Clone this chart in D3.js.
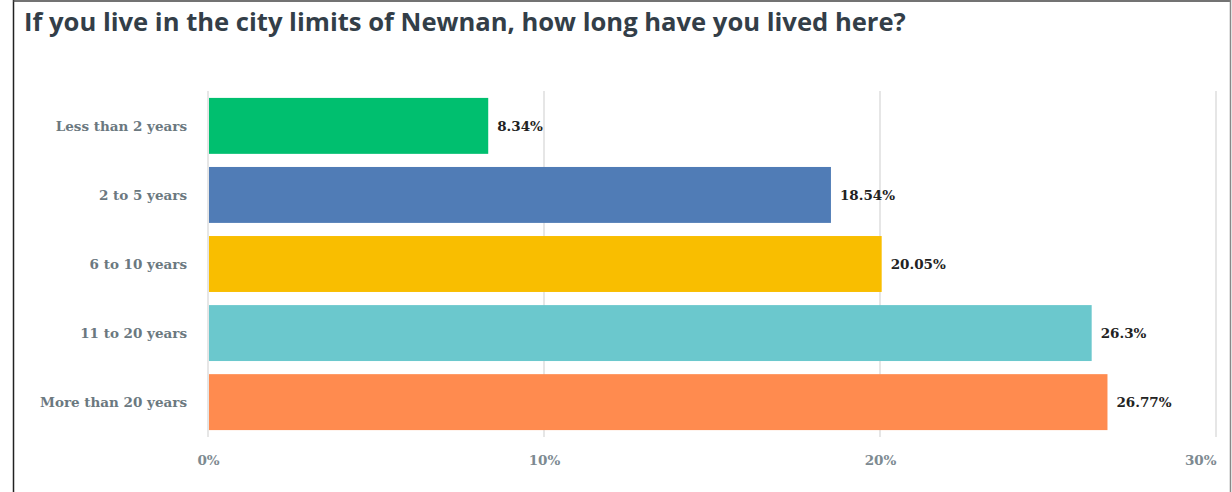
<!DOCTYPE html>
<html>
<head>
<meta charset="utf-8">
<script src="https://cdn.jsdelivr.net/npm/d3@7"></script>
<style>
  html, body { margin: 0; padding: 0; background: #fff; }
  svg { display: block; }
</style>
</head>
<body>
<svg id="chart" width="1232" height="492"></svg>
<script>
// Survey answers and their shares (percent)
const categories = ["Less than 2 years", "2 to 5 years", "6 to 10 years", "11 to 20 years", "More than 20 years"];
const values = [8.34, 18.54, 20.05, 26.3, 26.77];
const valueLabels = ["8.34%", "18.54%", "20.05%", "26.3%", "26.77%"];
const colors = ["#00bf6f", "#507cb6", "#f9be00", "#6bc8cd", "#ff8b4f"];
const tickValues = [0, 10, 20, 30];
const tickLabels = ["0%", "10%", "20%", "30%"];

const svg = d3.select("#chart");
const W = 1232, H = 492;

// Frame lines
svg.append("line").attr("x1", 13.5).attr("x2", 13.5).attr("y1", 0).attr("y2", H)
  .attr("stroke", "#222").attr("stroke-width", 1.5);
svg.append("line").attr("x1", 13).attr("x2", 1231).attr("y1", 1).attr("y2", 1)
  .attr("stroke", "#444").attr("stroke-width", 1.5);
svg.append("line").attr("x1", 1230.5).attr("x2", 1230.5).attr("y1", 0).attr("y2", H)
  .attr("stroke", "#888").attr("stroke-width", 1.5);

// Title
svg.append("text")
  .attr("x", 24).attr("y", 31)
  .attr("font-family", "'Open Sans', sans-serif")
  .attr("font-weight", 700)
  .attr("font-size", 25.6)
  .attr("fill", "#333e48")
  .text("If you live in the city limits of Newnan, how long have you lived here?");

const x = d3.scaleLinear().domain([0, 30]).range([208, 1216]);
const y = d3.scaleBand().domain(categories).range([91, 437]).paddingInner(0.19).paddingOuter(0.1);

// Vertical grid lines
svg.append("g").selectAll("line").data(tickValues).join("line")
  .attr("x1", d => x(d)).attr("x2", d => x(d))
  .attr("y1", 91).attr("y2", 437)
  .attr("stroke", "#e6e6e6").attr("stroke-width", 2);

// Bars
const rows = categories.map((c, i) => ({ c, v: values[i], label: valueLabels[i], color: colors[i] }));
svg.append("g").selectAll("rect").data(rows).join("rect")
  .attr("x", x(0) + 1)
  .attr("y", d => y(d.c))
  .attr("width", d => x(d.v) - x(0) - 1)
  .attr("height", y.bandwidth())
  .attr("fill", d => d.color);

// Value labels
svg.append("g").selectAll("text").data(rows).join("text")
  .attr("x", d => x(d.v) + 9)
  .attr("y", d => y(d.c) + y.bandwidth() / 2)
  .attr("dy", "0.35em")
  .attr("font-family", "'DejaVu Serif', serif")
  .attr("font-weight", 700)
  .attr("font-size", 13.5)
  .attr("fill", "#222")
  .text(d => d.label);

// Category axis labels
svg.append("g").selectAll("text").data(categories).join("text")
  .attr("x", 187)
  .attr("y", d => y(d) + y.bandwidth() / 2)
  .attr("dy", "0.35em")
  .attr("text-anchor", "end")
  .attr("font-family", "'DejaVu Serif', serif")
  .attr("font-weight", 700)
  .attr("font-size", 13.5)
  .attr("fill", "#6b787f")
  .text(d => d);

// Percentage axis
const xAxis = d3.axisBottom(x).tickValues(tickValues).tickFormat((d, i) => tickLabels[i]).tickSize(0).tickPadding(0);
const gx = svg.append("g").attr("transform", "translate(0,465)").call(xAxis);
gx.select(".domain").remove();
gx.selectAll("text")
  .attr("dy", 0)
  .attr("font-family", "'DejaVu Serif', serif")
  .attr("font-weight", 700)
  .attr("font-size", 13.5)
  .attr("fill", "#7d8a91")
  .attr("text-anchor", (d, i) => i === tickValues.length - 1 ? "end" : "middle");
</script>
</body>
</html>
